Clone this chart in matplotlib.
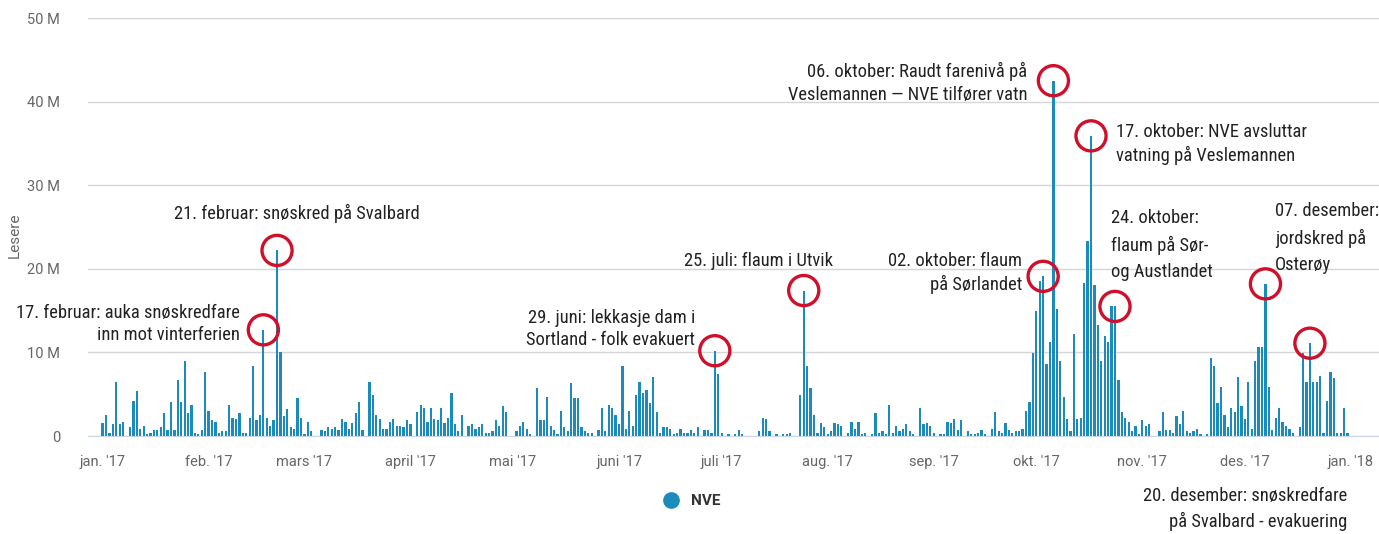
import numpy as np
import matplotlib.pyplot as plt
from matplotlib import font_manager
from matplotlib.lines import Line2D
from matplotlib.ticker import FuncFormatter

# daglege lesarar (millionar), 1. jan 2017 - 31. des 2017
jan = [1.6, 2.5, 0.4, 1.4, 6.5, 1.4, 1.7, 0, 1.1, 4.2, 5.4, 0.8, 1.2, 0.2, 0.4, 0.7,
       0.7, 1.1, 2.8, 0.7, 4.1, 0.7, 6.7, 4.1, 9.0, 2.8, 3.7, 0.4, 0.2, 0.7, 7.6]
feb = [3.0, 1.9, 1.7, 0.4, 0.6, 0.6, 3.7, 2.2, 2.0, 2.8, 0.4, 0.4, 2.2, 8.4, 1.9, 2.5,
       12.7, 2.2, 1.2, 1.9, 22.2, 10.0, 2.4, 3.2, 1.1, 0.8, 4.6, 2.2]
mar = [0.2, 1.7, 0.6, 0, 0, 0.7, 0.6, 1.1, 0.8, 1.1, 0.7, 2.0, 1.7, 0.8, 1.6, 2.8,
       4.1, 0.7, 0, 6.5, 4.9, 2.5, 2.0, 0.8, 0.8, 1.7, 2.0, 1.2, 1.2, 1.1, 1.9]
apr = [1.4, 0, 2.9, 3.7, 3.4, 1.7, 3.3, 2.0, 1.9, 3.4, 1.6, 2.2, 5.1, 1.4, 0.6, 2.5,
       0, 1.2, 1.4, 0.8, 1.1, 1.4, 0.4, 0.4, 0.6, 1.9, 1.2, 3.6, 2.9, 0]
mai = [0, 0.6, 1.2, 1.7, 0.8, 0.2, 0, 5.7, 1.9, 1.9, 4.7, 1.2, 0.7, 0.2, 3.0, 1.1,
       0.6, 6.3, 4.6, 4.6, 1.1, 0.6, 0.4, 0.4, 0, 0.7, 3.4, 0.6, 3.7, 3.3, 2.5]
jun = [1.4, 8.4, 0.8, 3.0, 1.2, 4.9, 6.5, 5.2, 5.5, 3.9, 7.1, 2.9, 0.4, 1.1, 1.1, 0.8,
       0.2, 0.4, 0.8, 0.4, 0.4, 0.7, 0.4, 1.1, 0, 0.7, 0.7, 0.4, 10.2, 7.4]
jul = [0.3, 0, 0.2, 0, 0.2, 0.7, 0.2, 0, 0, 0, 0, 0.6, 2.2, 2.0, 0.6, 0,
       0.2, 0, 0.2, 0.2, 0.4, 0, 0, 4.9, 17.4, 8.4, 5.7, 2.5, 0.4, 1.6, 1.1]
aug = [0.2, 0.6, 1.6, 1.4, 1.2, 0, 0.4, 1.7, 0.8, 1.7, 0.2, 0.4, 0, 0.2, 2.8, 0.4,
       0.6, 0.2, 3.7, 0.4, 1.2, 0.6, 0.8, 1.4, 0.6, 0.2, 0, 3.3, 1.4, 1.6, 1.2]
sep = [0.4, 0, 0.2, 0.2, 1.7, 1.6, 2.0, 0.7, 1.9, 0, 0.6, 0.2, 0.2, 0.4, 0.7, 0.2,
       0, 0.8, 2.9, 0.6, 0.4, 1.6, 0.7, 0.4, 0.6, 0.6, 0.8, 3.0, 4.1, 9.9]
okt = [14.9, 18.6, 19.1, 8.6, 11.3, 42.5, 15.2, 9.0, 4.7, 2.0, 0.6, 12.2, 2.0, 2.1, 18.3, 23.3,
       35.9, 18.1, 13.3, 9.0, 12.0, 11.2, 15.5, 15.5, 6.7, 2.9, 2.1, 1.7, 0.6, 1.2, 0.2]
nov = [1.9, 1.2, 1.4, 0, 0, 0.6, 2.9, 0.7, 0.7, 0.4, 2.4, 1.4, 3.0, 0.6, 0.4, 0.6,
       0.8, 0.2, 0, 0.2, 9.3, 8.4, 3.9, 5.9, 2.5, 1.1, 3.4, 2.9, 7.1, 3.6]
des = [2.0, 6.5, 0.8, 9.0, 10.7, 10.7, 18.2, 5.9, 0.7, 2.2, 3.3, 1.7, 1.2, 0.8, 0.4, 0,
       1.1, 9.9, 6.4, 11.1, 6.4, 6.4, 7.2, 0.4, 4.2, 7.7, 6.9, 0.4, 0.4, 3.3, 0.3]

lesere = np.array(jan + feb + mar + apr + mai + jun + jul + aug + sep + okt + nov + des) * 1e6
dagar = np.arange(len(lesere))

# månadsstart (dag i året) og etikettar
maanad_start = [0, 31, 59, 90, 120, 151, 181, 212, 243, 273, 304, 334, 365]
maanad_tekst = ["jan. '17", "feb. '17", "mars '17", "april '17", "mai '17", "juni '17",
                "juli '17", "aug. '17", "sep. '17", "okt. '17", "nov. '17", "des. '17", "jan. '18"]

# hendingar som er markerte (dag i året)
hending_dag = [47, 51, 179, 205, 275, 278, 289, 296, 340, 353]

BLAA = '#1c8aba'
RAUD = '#d0102b'
W, H = 1379, 534

# smal skrift til merknadene, om ho finst
installert = {f.name for f in font_manager.fontManager.ttflist}
smal = 'DejaVu Sans'
for namn in ['Roboto Condensed', 'Open Sans Condensed', 'Liberation Sans Narrow',
             'DejaVu Sans Condensed']:
    if namn in installert:
        smal = namn
        break

fig = plt.figure(figsize=(W / 100, H / 100), dpi=100)
ax = fig.add_axes([88 / W, (H - 436) / H, 1 - 88 / W, (436 - 18) / H])

ax.bar(dagar, lesere, width=0.66, color=BLAA, zorder=2)

# raude sirklar rundt toppane
ax.scatter(dagar[hending_dag], lesere[hending_dag], s=470, facecolors='none',
           edgecolors=RAUD, linewidths=2.4, zorder=3, clip_on=False)

ax.set_xlim(-4.27, 373.2)
ax.set_ylim(0, 50e6)
ax.set_yticks(np.arange(0, 50e6 + 1, 10e6))
ax.yaxis.set_major_formatter(FuncFormatter(lambda v, p: '0' if v == 0 else '%d M' % (v / 1e6)))
ax.set_xticks(maanad_start)
ax.set_xticklabels(maanad_tekst)

ax.grid(axis='y', color='#d6d6d6', linewidth=1, zorder=0)
for s in ['top', 'right', 'left']:
    ax.spines[s].set_visible(False)
ax.spines['bottom'].set_color('#ccd6eb')
ax.tick_params(axis='y', length=0, pad=20, labelsize=10.5, labelcolor='#666666')
ax.tick_params(axis='x', length=0, pad=14, labelsize=10.5, labelcolor='#666666')
for t in ax.get_xticklabels() + ax.get_yticklabels():
    t.set_fontfamily(['Roboto', 'DejaVu Sans'])

fig.text(15 / W, 1 - 235 / H, 'Lesere', rotation=90, ha='center', va='center',
         fontsize=11, color='#666666', family=['Roboto', 'DejaVu Sans'])

# merknader
skrift = dict(family=[smal, 'DejaVu Sans'], fontstretch='condensed', fontsize=13.3,
              color='#222222')
merknader = [
    (240, 324, "17. februar: auka snøskredfare\ninn mot vinterferien", 'right', 1.3),
    (297, 213, "21. februar: snøskred på Svalbard", 'center', 1.3),
    (695, 329, "29. juni: lekkasje dam i\nSortland - folk evakuert", 'right', 1.3),
    (759, 261, "25. juli: flaum i Utvik", 'center', 1.3),
    (1027, 83, "06. oktober: Raudt farenivå på\nVeslemannen — NVE tilfører vatn", 'right', 1.3),
    (1116, 144, "17. oktober: NVE avsluttar\nvatning på Veslemannen", 'left', 1.3),
    (1022, 273, "02. oktober: flaum\npå Sørlandet", 'right', 1.3),
    (1111, 245, "24. oktober:\nflaum på Sør-\nog Austlandet", 'left', 1.55),
    (1275, 238, "07. desember:\njordskred på\nOsterøy", 'left', 1.55),
    (1347, 509, "20. desember: snøskredfare\npå Svalbard - evakuering", 'right', 1.4),
]
for x, y, tekst, ha, ls in merknader:
    fig.text(x / W, 1 - y / H, tekst, ha=ha, va='center', multialignment=ha,
             linespacing=ls, **skrift)

# forklaring
handtak = [Line2D([], [], marker='o', linestyle='', color=BLAA, markersize=11)]
fig.legend(handtak, ['NVE'], loc='center', bbox_to_anchor=(688 / W, 1 - 501 / H),
           frameon=False, handletextpad=0.3,
           prop={'family': ['Roboto', 'DejaVu Sans'], 'weight': 'bold', 'size': 11})
for t in fig.legends[0].get_texts():
    t.set_color('#333333')

fig.savefig('out.png', dpi=100)
